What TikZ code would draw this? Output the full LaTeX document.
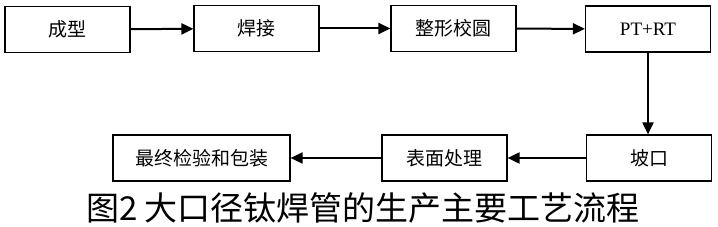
\documentclass[tikz,border=0pt]{standalone}
\usepackage{fontspec}
\setmainfont{Liberation Serif}
\newfontfamily\cjk{Noto Sans CJK SC}
\usetikzlibrary{arrows.meta,positioning}

\tikzset{
  procbox/.style={draw, line width=1.2pt, minimum width=125pt, minimum height=46pt,
    inner sep=0pt, font=\cjk\fontsize{19}{19}\selectfont},
  flow/.style={-{Triangle[length=12pt,width=11pt]}, line width=2pt}
}

\begin{document}
\begin{tikzpicture}[x=1pt, y=-1pt]
    \useasboundingbox (0,0) rectangle (718,227);

    % Top row
    \node[procbox] (form) at (67.5,29.5) {成型};
    \node[procbox] (weld) at (256.5,28.5) {焊接};
    \node[procbox] (round) at (453.5,28.5) {整形校圆};
    \node[procbox, font=\fontsize{19}{19}\selectfont] (ndt) at (648,29) {PT+RT};

    % Bottom row
    \node[procbox] (bevel) at (649,158) {坡口};
    \node[procbox] (surf) at (444.5,158) {表面处理};
    \node[procbox, minimum width=177pt] (pack) at (201.5,158) {最终检验和包装};

    % Arrows
    \draw[flow] (form) -- (weld);
    \draw[flow] (weld) -- (round);
    \draw[flow] (round) -- (ndt);
    \draw[flow] (ndt.south) -- (ndt.south |- bevel.north);
    \draw[flow] (bevel) -- (surf);
    \draw[flow] (surf) -- (pack);

    % Caption
    \node[font=\cjk\fontsize{33}{33}\selectfont] (caption) at (363,208) {图2 大口径钛焊管的生产主要工艺流程};
\end{tikzpicture}
\end{document}
